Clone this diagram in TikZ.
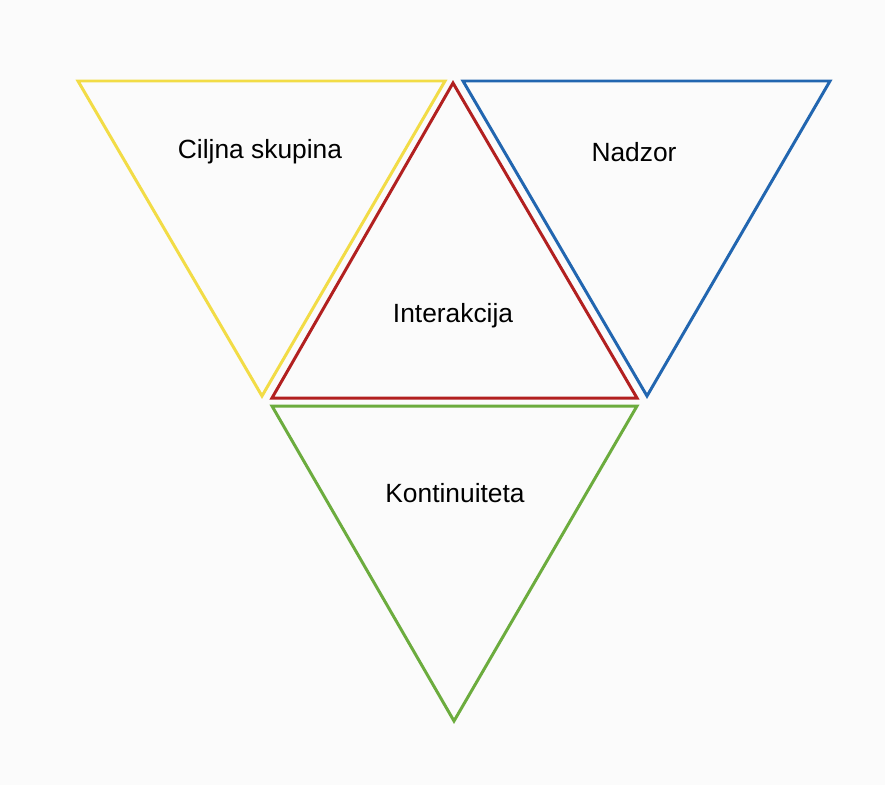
\documentclass[tikz,border=0pt]{standalone}
\usepackage{fontspec}
\setmainfont{Liberation Sans}
\definecolor{bgcol}{RGB}{251,251,251}
\definecolor{tyellow}{RGB}{242,220,70}
\definecolor{tred}{RGB}{178,32,32}
\definecolor{tblue}{RGB}{34,102,176}
\definecolor{tgreen}{RGB}{108,172,62}
\tikzset{
  tri/.style={line width=1.7pt, line join=miter},
  lbl/.style={font=\fontsize{15}{18}\selectfont, inner sep=0pt}
}
\begin{document}
\begin{tikzpicture}[x=0.02cm, y=-0.02cm]
  % Background
  \fill[bgcol] (0,0) rectangle (885,785);
  \useasboundingbox (0,0) rectangle (885,785);

  % Yellow triangle (Ciljna skupina)
  \coordinate (Y1) at (78,81);
  \coordinate (Y2) at (445,81);
  \coordinate (Y3) at (262,396);
  \draw[tri, tyellow] (Y1) -- (Y2) -- (Y3) -- cycle;
  \node[lbl] (ciljna) at (260,152) {Ciljna skupina};

  % Blue triangle (Nadzor)
  \coordinate (B1) at (463,81);
  \coordinate (B2) at (830,81);
  \coordinate (B3) at (647,396);
  \draw[tri, tblue] (B1) -- (B2) -- (B3) -- cycle;
  \node[lbl] (nadzor) at (634,152) {Nadzor};

  % Red triangle (Interakcija)
  \coordinate (R1) at (453,83);
  \coordinate (R2) at (637,398);
  \coordinate (R3) at (272,398);
  \draw[tri, tred] (R1) -- (R2) -- (R3) -- cycle;
  \node[lbl] (interakcija) at (453,316) {Interakcija};

  % Green triangle (Kontinuiteta)
  \coordinate (G1) at (272,406);
  \coordinate (G2) at (637,406);
  \coordinate (G3) at (454,721);
  \draw[tri, tgreen] (G1) -- (G2) -- (G3) -- cycle;
  \node[lbl] (kontinuiteta) at (455,493) {Kontinuiteta};
\end{tikzpicture}
\end{document}
